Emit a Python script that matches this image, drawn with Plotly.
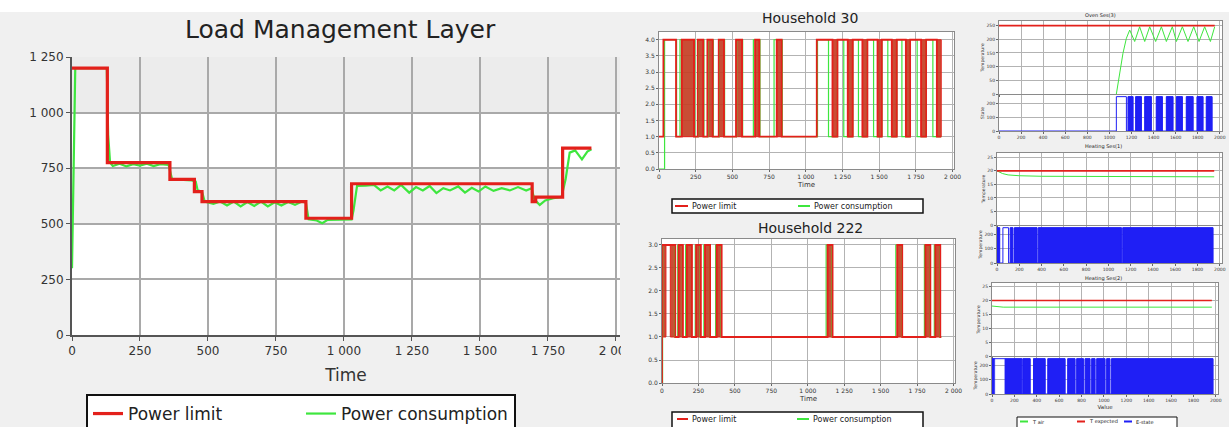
import plotly.graph_objects as go

W, H = 1229, 427
FONT = "DejaVu Sans, Liberation Sans, Arial, sans-serif"

# ---------------- data: Load Management Layer ----------------
limit_t = [0, 130, 360, 450, 478, 860, 1028, 1692, 1705, 1804, 1910]
limit_v = [1200, 775, 700, 645, 600, 525, 680, 600, 620, 840, 840]

cons_t = [0, 12, 128, 133, 140, 150, 175, 200, 225, 250, 275, 300, 325, 355, 368, 400, 440, 455,
          462, 478, 488, 520, 545, 570, 595, 620, 645, 670, 695, 720, 745, 770, 795, 820, 845,
          860, 870, 900, 920, 940, 1000, 1028, 1035, 1048, 1080, 1110, 1135, 1160, 1185, 1210,
          1240, 1265, 1290, 1315, 1340, 1365, 1390, 1420, 1445, 1470, 1495, 1520, 1550, 1580,
          1610, 1640, 1670, 1690, 1700, 1720, 1740, 1770, 1800, 1815, 1830, 1850, 1875, 1895, 1910]
cons_v = [300, 1200, 1200, 900, 775, 760, 770, 758, 768, 762, 770, 760, 768, 765, 700, 698, 695, 690,
          650, 645, 600, 590, 600, 582, 600, 578, 598, 580, 600, 578, 597, 582, 598, 585, 600,
          595, 520, 515, 503, 518, 520, 520, 560, 670, 672, 675, 650, 668, 650, 675,
          640, 665, 650, 670, 638, 660, 650, 668, 640, 662, 645, 668, 648, 660,
          650, 665, 650, 660, 610, 585, 605, 615, 620, 700, 820, 830, 790, 825, 835]

# ---------------- data: Household 30 ----------------
h30_limit_on = [(30, 116), (155, 239), (264, 302), (330, 366), (407, 443), (525, 566), (655, 684),
                (802, 836), (1075, 1182), (1216, 1286), (1320, 1386), (1420, 1489), (1518, 1586),
                (1620, 1682), (1711, 1786), (1820, 1893)]
h30_dense = [(155, 239), (264, 302), (330, 366), (407, 443), (525, 566), (655, 684), (802, 836),
             (1182, 1216), (1286, 1320), (1386, 1420), (1489, 1518), (1586, 1620), (1682, 1711),
             (1786, 1820), (1893, 1923)]
h30_cons_on = [(38, 120), (143, 244), (268, 306), (334, 370), (411, 447), (529, 570), (643, 688),
               (784, 840), (1080, 1155), (1216, 1259), (1320, 1359), (1420, 1462), (1518, 1559),
               (1620, 1655), (1711, 1759), (1820, 1866)]
h30_end = 1923

# ---------------- data: Household 222 ----------------
h222_limit_on = [(0, 91), (114, 143), (170, 205), (234, 266), (295, 330), (375, 409), (1136, 1170),
                 (1614, 1648), (1807, 1841), (1875, 1909)]
h222_dense = [(0, 27), (57, 91), (114, 143), (170, 205), (234, 266), (295, 330), (375, 409),
              (1136, 1170), (1614, 1648), (1807, 1841), (1875, 1909)]
h222_cons_on = [(4, 86), (108, 140), (162, 203), (228, 262), (287, 326), (368, 405), (1126, 1166),
                (1604, 1645), (1800, 1838), (1868, 1905)]
h222_end = 1916

# ---------------- data: Oven Ses(3) ----------------
oven_set_t = [0, 1954]
oven_set_v = [250, 250]
oven_air_t = [1063, 1093, 1123, 1154, 1184, 1229, 1274, 1320, 1365, 1419, 1471, 1516, 1570, 1607,
              1661, 1712, 1764, 1812, 1863, 1915, 1954]
oven_air_v = [0, 76, 149, 204, 234, 192, 246, 192, 246, 192, 246, 192, 246, 192, 246, 192, 246,
              192, 246, 192, 246]
oven_state_on = [(1063, 1154), (1169, 1214), (1238, 1290), (1320, 1380), (1425, 1480), (1516, 1576),
                 (1607, 1661), (1697, 1758), (1794, 1848), (1878, 1930)]
oven_state_dense = oven_state_on[1:]

# ---------------- data: Heating Ses(1) ----------------
h1_set_t = [0, 1950]
h1_set_v = [20, 20]
h1_air_t = [0, 50, 100, 200, 400, 800, 1200, 1600, 1950]
h1_air_v = [20, 19, 18.5, 18.2, 18, 17.9, 17.9, 17.8, 17.8]
h1_state_on = [(0, 24), (53, 104), (119, 143), (157, 359), (371, 1117), (1129, 1939)]
h1_state_dense = [(0, 24), (119, 143), (157, 359), (371, 1117), (1129, 1939)]

# ---------------- data: Heating Ses(2) ----------------
h2_set_t = [0, 1965]
h2_set_v = [20, 20]
h2_air_t = [0, 100, 1965]
h2_air_v = [18, 17.6, 17.6]
h2_state_on = [(0, 119), (119, 267), (276, 341), (371, 475), (499, 653), (677, 742), (757, 817),
               (832, 876), (891, 921), (936, 1010), (1025, 1054), (1069, 1975)]
h2_state_dense = [(0, 24), (119, 267), (276, 341), (371, 475), (499, 653), (677, 742), (757, 817),
                  (832, 876), (891, 921), (936, 1010), (1025, 1054), (1069, 1975)]

# legend labels
hh_labels = ["Power limit", "Power consumption"]
dev_labels = ["T air", "T expected", "E-state"]

RED = "#e3201b"
GREEN = "#3ee63e"
BLUE = "#1f1ff5"


def xd(a, b):
    return [a / W, b / W]


def yd(top, bottom):
    return [1 - bottom / H, 1 - top / H]


def steps(intervals, base, high, t0, t_end, start_val=None):
    xs = [t0]
    ys = [base if start_val is None else start_val]
    for a, b in intervals:
        xs += [a, b]
        ys += [high, base]
    xs.append(t_end)
    ys.append(base)
    return xs, ys


def bar_geom(intervals):
    centers = [(a + b) / 2 for a, b in intervals]
    widths = [b - a for a, b in intervals]
    return centers, widths


fig = go.Figure()

# ---- main chart ----
fig.add_trace(go.Scatter(x=cons_t, y=cons_v, mode="lines", name="Power consumption",
                         line=dict(color=GREEN, width=2.2), xaxis="x", yaxis="y",
                         legend="legend", legendrank=2))
fig.add_trace(go.Scatter(x=limit_t, y=limit_v, mode="lines", name="Power limit",
                         line=dict(color=RED, width=3.2, shape="hv"), xaxis="x", yaxis="y",
                         legend="legend", legendrank=1))


# ---- household charts ----
def household(limit_on, dense, cons_on, high, t_end, ax, start_val):
    cx, cy = steps(cons_on, 1.0, high, 0, t_end, start_val=0.0)
    fig.add_trace(go.Scatter(x=cx, y=cy, mode="lines", name=hh_labels[1], showlegend=False,
                             line=dict(color=GREEN, width=1.2, shape="hv"),
                             xaxis="x" + ax, yaxis="y" + ax))
    c, w = bar_geom(dense)
    fig.add_trace(go.Bar(x=c, y=[high - 1.0] * len(c), base=1.0, width=w,
                         marker=dict(color="rgba(196,62,36,0.92)", line=dict(color=RED, width=1)),
                         showlegend=False, xaxis="x" + ax, yaxis="y" + ax, hoverinfo="skip"))
    rx, ry = steps(limit_on, 1.0, high, 0, t_end, start_val=start_val)
    fig.add_trace(go.Scatter(x=rx, y=ry, mode="lines", name=hh_labels[0], showlegend=False,
                             line=dict(color=RED, width=1.8, shape="hv"),
                             xaxis="x" + ax, yaxis="y" + ax))


household(h30_limit_on, h30_dense, h30_cons_on, 4.0, h30_end, "2", 1.0)
household(h222_limit_on, h222_dense, h222_cons_on, 3.0, h222_end, "3", 0.0)


# ---- right column panels ----
def device(set_t, set_v, air_t, air_v, state_on, state_dense, ax_t, ax_s, top):
    fig.add_trace(go.Scatter(x=air_t, y=air_v, mode="lines", name=dev_labels[0], showlegend=False,
                             line=dict(color=GREEN, width=1), xaxis="x" + ax_t, yaxis="y" + ax_t))
    fig.add_trace(go.Scatter(x=set_t, y=set_v, mode="lines", name=dev_labels[1], showlegend=False,
                             line=dict(color=RED, width=1.6), xaxis="x" + ax_t, yaxis="y" + ax_t))
    c, w = bar_geom(state_dense)
    fig.add_trace(go.Bar(x=c, y=[top] * len(c), base=0, width=w,
                         marker=dict(color=BLUE, line=dict(color=BLUE, width=0.5)),
                         showlegend=False, xaxis="x" + ax_s, yaxis="y" + ax_s, hoverinfo="skip"))
    sx, sy = steps(state_on, 0, top, 0, max(b for a, b in state_on))
    fig.add_trace(go.Scatter(x=sx, y=sy, mode="lines", name=dev_labels[2], showlegend=False,
                             line=dict(color=BLUE, width=1, shape="hv"),
                             xaxis="x" + ax_s, yaxis="y" + ax_s))


device(oven_set_t, oven_set_v, oven_air_t, oven_air_v, oven_state_on, oven_state_dense,
       "4", "5", 250)
device(h1_set_t, h1_set_v, h1_air_t, h1_air_v, h1_state_on, h1_state_dense, "6", "7", 250)
device(h2_set_t, h2_set_v, h2_air_t, h2_air_v, h2_state_on, h2_state_dense, "8", "9", 250)

GRID_MAIN = "#a9a9a9"
GRID_SMALL = "#b3b3b3"
PANEL_BG = "#f0f0f0"

layout = dict(
    template="none",
    width=W, height=H, margin=dict(l=0, r=0, t=0, b=0, pad=0, autoexpand=False),
    paper_bgcolor=PANEL_BG, plot_bgcolor="white",
    font=dict(family=FONT, color="#222"),
    separators=". ", barmode="overlay", bargap=0,
    showlegend=True, hovermode=False,
)

# main axes
layout["xaxis"] = dict(domain=xd(72, 620), range=[0, 2015], anchor="y", automargin=False,
                       tickvals=[0, 250, 500, 750, 1000, 1250, 1500, 1750, 2000],
                       separatethousands=True, tickfont=dict(size=12, color="#333"),
                       showgrid=True, gridcolor=GRID_MAIN, gridwidth=2,
                       showline=True, linecolor="#555", linewidth=2,
                       ticks="outside", ticklen=4, tickcolor="#555", zeroline=False,
                       title=dict(text="Time", font=dict(size=17, color="#333"), standoff=12))
layout["yaxis"] = dict(domain=yd(57, 335), range=[0, 1250], anchor="x", automargin=False,
                       tickvals=[0, 250, 500, 750, 1000, 1250], separatethousands=True,
                       tickfont=dict(size=12, color="#333"),
                       showgrid=True, gridcolor=GRID_MAIN, gridwidth=2,
                       showline=True, linecolor="#555", linewidth=2,
                       ticks="outside", ticklen=4, tickcolor="#555", zeroline=False)


def small_axes(n, dom_x, dom_y, yrange, ydtick, yfmt, tsize, xtitle=None, show_xlabels=True,
               xdtick=250, xrange=None, ytitle=None, sep=True, yvals=None):
    xa = dict(domain=dom_x, range=xrange or [0, 2010], anchor="y" + n, dtick=xdtick,
              automargin=False,
              separatethousands=sep, tickfont=dict(size=tsize, color="#333"),
              showticklabels=show_xlabels,
              showgrid=True, gridcolor=GRID_SMALL, gridwidth=1, zeroline=False,
              showline=True, mirror=True, linecolor="#8a8a8a", linewidth=1,
              ticks="outside", ticklen=2, tickcolor="#666")
    if xtitle:
        xa["title"] = dict(text=xtitle, font=dict(size=tsize + 1, color="#333"), standoff=2)
    ya = dict(domain=dom_y, range=yrange, anchor="x" + n, tickformat=yfmt, automargin=False,
              tickfont=dict(size=tsize, color="#333"),
              showgrid=True, gridcolor=GRID_SMALL, gridwidth=1, zeroline=False,
              showline=True, mirror=True, linecolor="#8a8a8a", linewidth=1,
              ticks="outside", ticklen=2, tickcolor="#666")
    if yvals is not None:
        ya["tickvals"] = yvals
    else:
        ya["dtick"] = ydtick
    if ytitle:
        ya["title"] = dict(text=ytitle, font=dict(size=tsize, color="#333"), standoff=1)
    layout["xaxis" + n] = xa
    layout["yaxis" + n] = ya


small_axes("2", xd(659, 954), yd(32, 169), [0, 4.24], 0.5, ".1f", 6, xtitle="Time")
small_axes("3", xd(662, 955), yd(239, 383), [0, 3.13], 0.5, ".1f", 6, xtitle="Time")

RX = [0, 2020]
small_axes("4", xd(999, 1222), yd(21, 94), [0, 267], 50, "d", 4.5, show_xlabels=False,
           xdtick=200, xrange=RX, ytitle="Temperature", sep=False)
small_axes("5", xd(999, 1222), yd(95, 131), [0, 262], None, "d", 4.5, xdtick=200, xrange=RX,
           ytitle="State", sep=False, yvals=[0, 100, 200])
small_axes("6", xd(997, 1222), yd(153, 225), [0, 26.6], 5, "d", 4.5, show_xlabels=False,
           xdtick=200, xrange=RX, ytitle="Temperature", sep=False)
small_axes("7", xd(997, 1222), yd(226, 263), [0, 262], None, "d", 4.5, xdtick=200, xrange=RX,
           ytitle="Temperature", sep=False, yvals=[0, 100, 200])
small_axes("8", xd(992, 1218), yd(283, 356), [0, 26.3], 5, "d", 4.5, show_xlabels=False,
           xdtick=200, xrange=RX, ytitle="Temperature", sep=False)
small_axes("9", xd(992, 1218), yd(357, 394), [0, 262], None, "d", 4.5, xdtick=200, xrange=RX,
           xtitle="Value", ytitle="Temperature", sep=False, yvals=[0, 100, 200])

# main legend (plotly legend)
layout["legend"] = dict(x=86 / W, y=1 - 394 / H, xanchor="left", yanchor="top",
                        orientation="h", bgcolor="white", bordercolor="#111", borderwidth=2,
                        font=dict(size=17, color="#222"), entrywidth=168, entrywidthmode="pixels",
                        itemwidth=30)

annotations = [
    dict(text="Load Management Layer", x=340 / W, y=1 - 30 / H, xanchor="center",
         yanchor="middle", font=dict(size=25, color="#222")),
    dict(text="Household 30", x=810 / W, y=1 - 18 / H, xanchor="center", yanchor="middle",
         font=dict(size=14, color="#222")),
    dict(text="Household 222", x=810 / W, y=1 - 228 / H, xanchor="center", yanchor="middle",
         font=dict(size=14, color="#222")),
    dict(text="Oven Ses(3)", x=1100 / W, y=1 - 15 / H, xanchor="center", yanchor="middle",
         font=dict(size=5, color="#222")),
    dict(text="Heating Ses(1)", x=1103 / W, y=1 - 147 / H, xanchor="center", yanchor="middle",
         font=dict(size=5, color="#222")),
    dict(text="Heating Ses(2)", x=1103 / W, y=1 - 278 / H, xanchor="center", yanchor="middle",
         font=dict(size=5, color="#222")),
]

shapes = [
    dict(type="rect", xref="paper", yref="paper", x0=0, x1=1, y0=1 - 12 / H, y1=1,
         fillcolor="white", line=dict(width=0), layer="below"),
    dict(type="rect", xref="x domain", yref="y", x0=0, x1=1, y0=1000, y1=1250,
         fillcolor="#ececec", line=dict(width=0), layer="below"),
    dict(type="rect", xref="x domain", yref="y", x0=0, x1=1, y0=500, y1=750,
         fillcolor="#f1f1f1", line=dict(width=0), layer="below"),
    # household panel edge that clips the main chart's last tick label
    dict(type="rect", xref="paper", yref="paper", x0=621 / W, x1=645 / W,
         y0=1 - 365 / H, y1=1 - 338 / H, fillcolor=PANEL_BG, line=dict(width=0), layer="above"),
]


def box_legend(x0, x1, y0, y1, items, fsize, bw):
    # items: (label, colour, line_x0, line_x1, text_x)
    shapes.append(dict(type="rect", xref="paper", yref="paper", x0=x0 / W, x1=x1 / W,
                       y0=1 - y1 / H, y1=1 - y0 / H, fillcolor="white",
                       line=dict(color="#111", width=bw), layer="above"))
    ym = (y0 + min(y1, H - 1)) / 2 if y1 > H else (y0 + y1) / 2
    for label, col, lx0, lx1, tx in items:
        shapes.append(dict(type="line", xref="paper", yref="paper", x0=lx0 / W, x1=lx1 / W,
                           y0=1 - ym / H, y1=1 - ym / H, line=dict(color=col, width=2),
                           layer="above"))
        annotations.append(dict(text=label, x=tx / W, y=1 - ym / H, xanchor="left",
                                yanchor="middle", font=dict(size=fsize, color="#222")))


box_legend(672, 923, 199, 213, [(hh_labels[0], RED, 675, 688, 690),
                                 (hh_labels[1], GREEN, 798, 810, 812)], 8, 1.5)
box_legend(672, 923, 412, 432, [(hh_labels[0], RED, 677, 688, 690),
                                 (hh_labels[1], GREEN, 797, 809, 811)], 8, 1.5)
box_legend(1017, 1177, 417, 432, [(dev_labels[0], GREEN, 1020, 1028, 1030),
                                   (dev_labels[1], RED, 1077, 1085, 1087),
                                   (dev_labels[2], BLUE, 1124, 1132, 1134)], 5, 1)

for a in annotations:
    a.setdefault("xref", "paper")
    a.setdefault("yref", "paper")
    a["showarrow"] = False

layout["annotations"] = annotations
layout["shapes"] = shapes

fig.update_layout(**layout)
fig.write_html("out.html", config={"displayModeBar": False, "staticPlot": True},
               post_script="document.body.style.margin='0';"
                           "document.body.style.padding='0';")
